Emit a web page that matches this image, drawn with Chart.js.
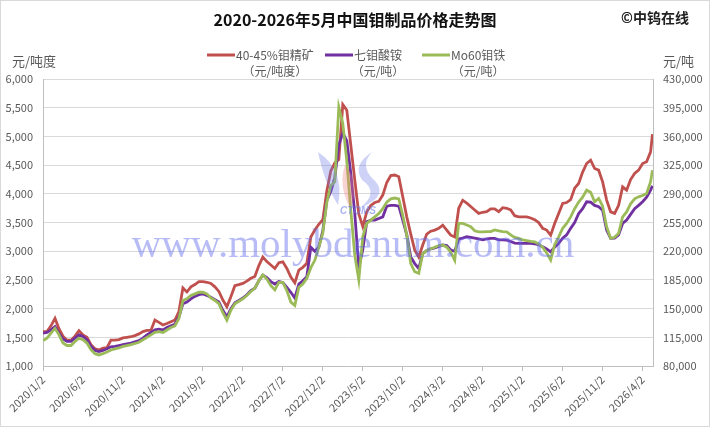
<!DOCTYPE html>
<html><head><meta charset="utf-8">
<script src="https://cdn.jsdelivr.net/npm/chart.js@4/dist/chart.umd.min.js"></script>
<style>html,body{margin:0;padding:0;background:#fff}canvas{display:block}</style>
</head><body>
<canvas id="c" width="710" height="427"></canvas>
<script>
const dates = [
"2020/1/2","2020/1/17","2020/2/2","2020/2/17","2020/3/2","2020/3/17","2020/4/2","2020/4/17","2020/5/2","2020/5/17","2020/6/2","2020/6/17","2020/7/2","2020/7/17","2020/8/2","2020/8/17","2020/9/2","2020/9/17","2020/10/2","2020/10/17","2020/11/2","2020/11/17","2020/12/2","2020/12/17",
"2021/1/2","2021/1/17","2021/2/2","2021/2/17","2021/3/2","2021/3/17","2021/4/2","2021/4/17","2021/5/2","2021/5/17","2021/6/2","2021/6/17","2021/7/2","2021/7/17","2021/8/2","2021/8/17","2021/9/2","2021/9/17","2021/10/2","2021/10/17","2021/11/2","2021/11/17","2021/12/2","2021/12/17",
"2022/1/2","2022/1/17","2022/2/2","2022/2/17","2022/3/2","2022/3/17","2022/4/2","2022/4/17","2022/5/2","2022/5/17","2022/6/2","2022/6/17","2022/7/2","2022/7/17","2022/8/2","2022/8/17","2022/9/2","2022/9/17","2022/10/2","2022/10/17","2022/11/2","2022/11/17","2022/12/2","2022/12/17",
"2023/1/2","2023/1/17","2023/2/2","2023/2/17","2023/3/2","2023/3/17","2023/4/2","2023/4/17","2023/5/2","2023/5/17","2023/6/2","2023/6/17","2023/7/2","2023/7/17","2023/8/2","2023/8/17","2023/9/2","2023/9/17","2023/10/2","2023/10/17","2023/11/2","2023/11/17","2023/12/2","2023/12/17",
"2024/1/2","2024/1/17","2024/2/2","2024/2/17","2024/3/2","2024/3/17","2024/4/2","2024/4/17","2024/5/2","2024/5/17","2024/6/2","2024/6/17","2024/7/2","2024/7/17","2024/8/2","2024/8/17","2024/9/2","2024/9/17","2024/10/2","2024/10/17","2024/11/2","2024/11/17","2024/12/2","2024/12/17",
"2025/1/2","2025/1/17","2025/2/2","2025/2/17","2025/3/2","2025/3/17","2025/4/2","2025/4/17","2025/5/2","2025/5/17","2025/6/2","2025/6/17","2025/7/2","2025/7/17","2025/8/2","2025/8/17","2025/9/2","2025/9/17","2025/10/2","2025/10/17","2025/11/2","2025/11/17","2025/12/2","2025/12/17",
"2026/1/2","2026/1/17","2026/2/2","2026/2/17","2026/3/2","2026/3/17","2026/4/2","2026/4/17","2026/5/2","2026/5/9"
];

// 40-45%钼精矿 (元/吨度) - left axis
const concentrate = [
1600,1600,1700,1830,1650,1520,1450,1450,1520,1615,1540,1500,1370,1300,1280,1310,1320,1450,1450,1460,1490,1500,1510,1530,
1560,1600,1620,1620,1800,1760,1715,1740,1770,1800,1950,2360,2290,2380,2420,2470,2470,2460,2440,2380,2300,2150,2033,2207,
2400,2420,2440,2480,2530,2560,2750,2900,2820,2760,2700,2800,2817,2700,2550,2450,2672,2720,2790,3250,3370,3470,3550,4050,
4400,4540,4600,5560,5460,4850,4240,3650,3430,3690,3800,3850,3870,3980,4200,4320,4330,4300,3950,3600,3300,3020,2900,3110,
3300,3350,3370,3400,3456,3370,3280,3250,3750,3890,3840,3780,3720,3660,3680,3690,3740,3740,3690,3760,3750,3720,3620,3600,
3600,3600,3580,3550,3500,3400,3370,3282,3485,3660,3834,3850,3900,4100,4182,4380,4530,4588,4443,4414,4210,3892,3688,3660,
3800,4123,4066,4250,4356,4414,4530,4560,4733,5040
];

// 七钼酸铵 (元/吨) - right axis
const ammoniumHeptamolybdate = [
120000,121000,124000,128000,120000,113000,110000,110000,114000,118000,116000,112000,104000,99000,97500,99000,101000,103500,104000,105000,106000,107000,108000,109500,
111000,114000,118000,121000,124000,125000,124000,127000,129000,131000,140000,156000,158000,162000,165000,167000,168000,166000,164000,161000,158000,148000,140000,150000,
157000,160000,163000,167000,172000,175000,184000,191000,188000,183000,180000,183000,182000,176000,170000,163000,180000,184000,189000,225000,220000,225000,245000,282000,
293000,310000,350000,364000,355000,315000,266000,200000,222000,256000,258000,258000,260000,262000,275000,276000,276000,275000,258000,240000,213000,205000,199000,217000,
221000,223000,224000,226000,227600,227000,221500,220000,235000,236000,237700,237000,236000,235000,234000,235000,235700,235700,234000,234000,233700,232000,230000,229600,
229600,229600,229600,229000,228000,225500,223000,219400,225000,229600,236000,240000,248000,255000,266000,272000,280400,280000,276000,274300,270000,245900,235700,236000,
240000,254000,258000,265000,272000,276000,280400,286000,294600,300000
];

// Mo60钼铁 (元/吨) - right axis
const ferroMo60 = [
111000,114000,120000,126000,118000,108000,105000,105000,110000,114000,112000,108000,100000,95000,93500,95000,97000,99500,101000,102000,104000,105000,106000,107500,
109000,112000,115000,118000,121000,122000,121000,124000,127000,129000,138000,160000,162000,166000,168000,170000,170000,168000,163000,160000,156000,145000,136000,148000,
156000,159000,162000,166000,171000,175000,184000,191000,186000,178000,173000,182000,182000,172000,158000,154000,176000,180000,187000,200000,209000,225000,242000,280000,
300000,305000,396000,376000,330000,270000,215000,185000,238000,254000,258000,262000,266000,272000,280000,284000,285000,284000,264000,240000,205000,195000,193000,217000,
221000,223000,225000,227000,227600,225000,219000,209000,254000,254000,252000,250000,245000,243800,243800,244000,244000,246000,245000,244000,243800,240000,237000,235700,
234000,233000,232000,231600,229000,225000,218000,209300,228000,237700,248000,254000,262000,272000,280000,286000,294600,292000,280400,284500,275000,250000,235700,237000,
242000,262100,268000,278000,284000,286500,288000,290600,305000,319000
];

const tickLabels = ["2020/1/2","2020/6/2","2020/11/2","2021/4/2","2021/9/2","2022/2/2","2022/7/2","2022/12/2","2023/5/2","2023/10/2","2024/3/2","2024/8/2","2025/1/2","2025/6/2","2025/11/2","2026/4/2"];
const seriesNames = [["40-45%钼精矿","（元/吨度）"],["七钼酸铵","（元/吨）"],["Mo60钼铁","（元/吨）"]];
const seriesColors = ["#c0504d","#7030a0","#9bbb59"];

function monthOffset(s){const p=s.split('/').map(Number);return (p[0]-2020)*12+(p[1]-1)+(p[2]-2)/30;}
const xs = dates.map(monthOffset);
const tickMonths = tickLabels.map(monthOffset);
const toPts = arr => arr.map((v,i)=>({x:xs[i],y:v}));
const FONT = "'Noto Sans CJK SC','Noto Sans',sans-serif";
Chart.defaults.font.family = FONT;
Chart.defaults.color = '#595959';

const decor = {
  id:'decor',
  afterDatasetsDraw(chart){
    const c = chart.ctx;
    c.save();
    // logo (faint)
    c.globalAlpha = 0.35;
    c.fillStyle = '#6f7fe6';
    c.beginPath(); c.moveTo(318,152); c.quadraticCurveTo(345,170,338,205); c.quadraticCurveTo(325,185,318,152); c.fill();
    c.beginPath(); c.moveTo(372,152); c.quadraticCurveTo(352,165,362,180); c.quadraticCurveTo(380,192,360,208); c.quadraticCurveTo(392,195,372,178); c.quadraticCurveTo(360,165,372,152); c.fill();
    c.fillStyle = '#ee7f7f';
    c.beginPath(); c.moveTo(345,165); c.quadraticCurveTo(362,185,350,208); c.quadraticCurveTo(338,185,345,165); c.fill();
    c.globalAlpha = 0.6;
    c.fillStyle = '#6f7fe6';
    c.font = "italic bold 10px 'Liberation Sans',sans-serif"; c.textAlign='center'; c.textBaseline='middle';
    c.fillText('CTOMS', 358, 211);
    c.globalAlpha = 1;
    c.font = "41px 'Liberation Serif','Times New Roman',serif";
    c.fillStyle = 'rgba(95,105,235,0.45)';
    c.textAlign = 'center'; c.textBaseline = 'alphabetic';
    c.fillText('www.molybdenum.com.cn', 353, 257);
    c.restore();
  },
  afterDraw(chart){
    const c = chart.ctx;
    c.save();
    // axis unit labels
    c.font = "13px " + FONT; c.fillStyle = '#595959'; c.textBaseline='middle';
    c.textAlign='left'; c.fillText('元/吨度', 12, 61);
    c.fillText('元/吨', 663, 61);
    // copyright
    c.font = "bold 14px " + FONT; c.fillStyle = '#222'; c.textAlign='right';
    c.fillText('©中钨在线', 689, 18);
    // legend
    const lineX = [207, 325, 422];
    c.font = "12px " + FONT; c.textBaseline='middle';
    seriesNames.forEach((lines,i)=>{
      c.fillStyle = seriesColors[i];
      c.fillRect(lineX[i], 53.5, 28, 3);
      const tx = lineX[i] + 29;
      const w = c.measureText(lines[0]).width;
      c.fillStyle = '#595959';
      c.textAlign='left'; c.fillText(lines[0], tx, 55);
      c.textAlign='center'; c.fillText(lines[1], tx + w/2, 71);
    });
    c.strokeStyle = '#d9d9d9'; c.lineWidth = 1;
    c.strokeRect(0.5,0.5,709,426);
    c.restore();
  }
};

new Chart(document.getElementById('c'), {
  type:'line',
  data:{datasets:[
    {label:seriesNames[0].join(''), data:toPts(concentrate), borderColor:seriesColors[0], backgroundColor:seriesColors[0], yAxisID:'yL', order:3},
    {label:seriesNames[1].join(''), data:toPts(ammoniumHeptamolybdate), borderColor:seriesColors[1], backgroundColor:seriesColors[1], yAxisID:'yR', order:2},
    {label:seriesNames[2].join(''), data:toPts(ferroMo60), borderColor:seriesColors[2], backgroundColor:seriesColors[2], yAxisID:'yR', order:1}
  ]},
  options:{
    responsive:false, animation:false, devicePixelRatio:1,
    elements:{point:{radius:0}, line:{borderWidth:2.8, tension:0}},
    layout:{padding:{left:0,right:0,top:0,bottom:0}},
    plugins:{
      title:{display:true, text:'2020-2026年5月中国钼制品价格走势图', color:'#111', font:{size:16, weight:'bold', family:FONT}, padding:{top:10, bottom:50}},
      legend:{display:false},
      tooltip:{enabled:false}
    },
    scales:{
      x:{type:'linear', min:0, max:76.3,
        afterBuildTicks(s){ s.ticks = tickMonths.map(v=>({value:v})); },
        ticks:{callback:(v,i)=>tickLabels[i], minRotation:45, maxRotation:45, autoSkip:false, font:{size:11}, color:'#595959', padding:2},
        grid:{drawOnChartArea:false, drawTicks:true, tickLength:5, color:'#bfbfbf'},
        border:{color:'#bfbfbf'},
        afterFit(s){ s.height = 61; }
      },
      yL:{position:'left', min:1000, max:6000,
        ticks:{stepSize:500, callback:v=>v.toLocaleString('en-US'), font:{size:11}, color:'#595959', padding:10},
        grid:{color:'#d9d9d9', drawTicks:false},
        border:{color:'#bfbfbf'},
        afterFit(s){ s.width = 43; }
      },
      yR:{position:'right', min:80000, max:430000,
        ticks:{stepSize:35000, callback:v=>v.toLocaleString('en-US'), font:{size:11}, color:'#595959', padding:10},
        grid:{drawOnChartArea:false, drawTicks:false},
        border:{color:'#bfbfbf'},
        afterFit(s){ s.width = 57; }
      }
    }
  },
  plugins:[decor]
});
</script>
</body></html>
